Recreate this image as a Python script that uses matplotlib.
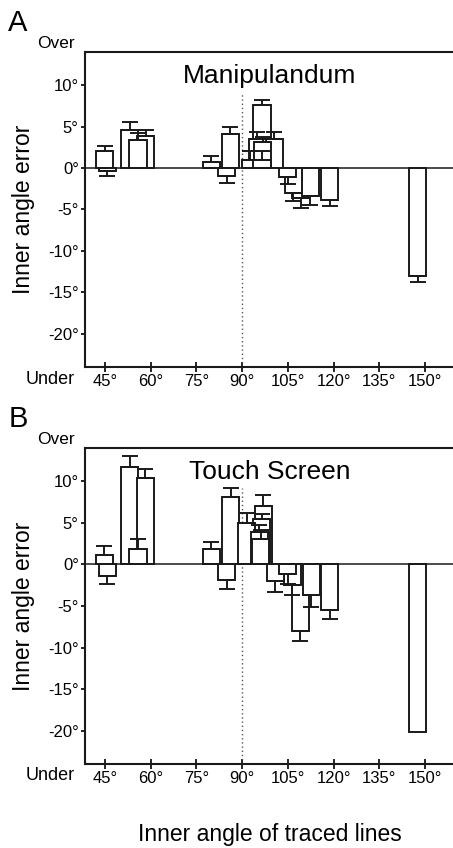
import matplotlib
matplotlib.use("Agg")
import matplotlib.pyplot as plt

plt.rcParams["font.family"] = ["Liberation Sans", "DejaVu Sans"]

W, H = 453, 848

# angle positions (deg), mean inner-angle error (deg), one-sided error (deg)
manip_pos = [44.9, 45.7, 53.1, 55.8, 58.4, 79.9, 84.9, 86.1, 92.6, 96.5,
             96.5, 95.0, 96.8, 100.6, 105.0, 106.8, 109.2, 112.4, 118.8, 147.6]
manip_mean = [2.0, -0.35, 4.6, 3.4, 3.9, 0.7, -1.0, 4.1, 1.0, 1.0,
              7.6, 3.55, 3.1, 3.55, -1.1, -3.0, -3.6, -3.4, -3.8, -13.0]
manip_err = [0.7, 0.6, 0.9, 0.8, 0.7, 0.7, 0.75, 0.8, 1.0, 1.0,
             0.65, 0.85, 0.7, 0.85, 0.8, 1.0, 1.2, 1.0, 0.75, 0.7]

touch_pos = [44.8, 45.7, 53.1, 58.2, 55.8, 79.9, 86.3, 84.9, 91.5, 96.9,
             96.4, 95.6, 96.1, 100.8, 105.0, 106.4, 109.0, 112.7, 118.8, 147.6]
touch_mean = [1.1, -1.4, 11.7, 10.4, 1.8, 1.8, 8.1, -1.9, 5.0, 7.0,
              5.5, 3.9, 3.1, -2.0, -1.1, -2.45, -8.0, -3.7, -5.45, -20.1]
touch_err = [1.1, 0.9, 1.3, 1.05, 1.2, 0.9, 1.15, 1.0, 1.2, 1.4,
             0.6, 0.8, 1.0, 1.3, 1.2, 1.2, 1.15, 1.4, 1.1, 0.0]

xticks = [45, 60, 75, 90, 105, 120, 135, 150]
yticks = [-20, -15, -10, -5, 0, 5, 10]
BAR_W = 5.6


def fx(px):
    return px / W


def fy(py):
    return 1 - py / H


def panel(top_px, bot_px, pos, mean, err, title, letter):
    ax = fig.add_axes([fx(85), fy(bot_px), 1 - fx(85), (bot_px - top_px) / H])
    ax.set_xlim(38.4, 159.2)
    ax.set_ylim(-24, 14)

    # tallest bars first so shorter ones stay visible on top
    order = sorted(range(len(pos)), key=lambda i: -abs(mean[i]))
    for z, i in enumerate(order):
        m, e = mean[i], err[i]
        ax.bar(pos[i], m, width=BAR_W, color="white", edgecolor="#1a1a1a",
               linewidth=1.4, zorder=3 + z * 0.01)
        if e > 0:
            yerr = [[0], [e]] if m > 0 else [[e], [0]]
            ax.errorbar(pos[i], m, yerr=yerr, fmt="none", ecolor="#1a1a1a",
                        elinewidth=1.4, capsize=6, capthick=1.4,
                        zorder=3 + z * 0.01)

    ax.axhline(0, color="#1a1a1a", lw=1.1, zorder=10)
    ax.plot([90, 90], [-24, 9.2], color="#555555", lw=1.0,
            linestyle=(0, (1, 2)), zorder=2)

    ax.spines["right"].set_visible(False)
    for s in ("left", "bottom", "top"):
        ax.spines[s].set_linewidth(1.5)
        ax.spines[s].set_color("#1a1a1a")

    ax.set_xticks(xticks)
    ax.set_xticklabels([f"{t}\u00b0" for t in xticks], fontsize=12)
    ax.set_yticks(yticks)
    ax.set_yticklabels([f"{t}\u00b0" for t in yticks], fontsize=12)
    ax.tick_params(axis="x", direction="inout", length=6.5, width=1.2, pad=2)
    ax.tick_params(axis="y", direction="out", length=3, width=1.2, pad=1.5)

    ax.text(0.5, fy(0), "", transform=ax.transAxes)
    mid = (top_px + bot_px) / 2
    fig.text(fx(270), fy(top_px + 31), title, ha="center", va="baseline",
             fontsize=19)
    fig.text(fx(56), fy(top_px - 8), "Over", ha="center", va="center",
             fontsize=12.5)
    fig.text(fx(50.5), fy(bot_px + 12), "Under", ha="center", va="center",
             fontsize=13)
    fig.text(fx(23.5), fy(mid), "Inner angle error", rotation=90,
             ha="center", va="center", fontsize=16.5)
    fig.text(fx(18), fy(top_px - 29), letter, ha="center", va="center",
             fontsize=21)
    return ax


fig = plt.figure(figsize=(W / 100, H / 100), dpi=100)
panel(52, 367, manip_pos, manip_mean, manip_err, "Manipulandum", "A")
panel(448, 764, touch_pos, touch_mean, touch_err, "Touch Screen", "B")
fig.text(fx(270), fy(834), "Inner angle of traced lines", ha="center",
         va="center", fontsize=16.5)

fig.savefig("out.png", dpi=100)
